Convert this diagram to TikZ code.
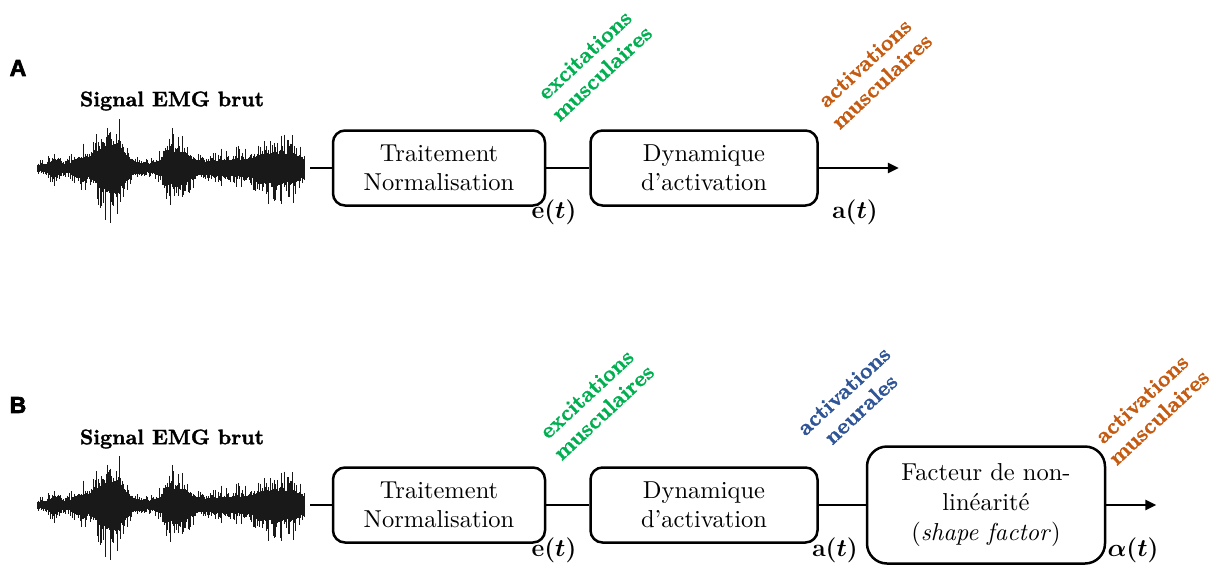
\documentclass[tikz,border=0pt]{standalone}
\usepackage{fontspec}
\usepackage{amsmath}
\usetikzlibrary{positioning,arrows.meta}
\newfontfamily\panelfont[BoldFeatures={FakeBold=3}]{Liberation Sans}
\newfontfamily\boxfont{lmroman10-regular.otf}[ItalicFont=lmroman10-italic.otf, Ligatures=TeX]
\newfontfamily\heavyfont{lmroman10-bold.otf}[FakeBold=1.6, Ligatures=TeX]
\definecolor{excgreen}{RGB}{0,176,80}
\definecolor{actorange}{RGB}{197,90,17}
\definecolor{neurblue}{RGB}{47,85,151}

\tikzset{
  bloc/.style={draw, line width=2.5pt, rounded corners=12pt, minimum width=212pt,
    minimum height=75pt, align=center, inner sep=0pt, font=\boxfont\fontsize{24.5}{29}\selectfont},
  flow/.style={line width=2.5pt},
  sortie/.style={font=\boldmath\fontsize{23}{24}\selectfont, inner sep=0pt},
  diag/.style={rotate=43, align=center, inner sep=0pt, font=\heavyfont\fontsize{22}{25}\selectfont},
  titre/.style={font=\heavyfont\fontsize{21}{24}\selectfont, inner sep=0pt},
  panel/.style={font=\panelfont\bfseries\fontsize{23}{24}\selectfont, inner sep=0pt},
  emg/.style={line width=0.8pt, black!90},
  declare function={
    bump(\t,\c,\w)=1/(1+pow(min(abs((\t-\c)/\w),9),4));
    emgenv(\t)=7+40*bump(\t,110,16)+28*bump(\t,177,14)+24*bump(\t,279,25)
      +9*bump(\t,55,6)+11*bump(\t,80,7)+8*bump(\t,228,25);
  }
}

% raw EMG trace, centred on the given y
\newcommand{\emgtrace}[1]{%
  \pgfmathsetseed{4242}%
  \draw[line width=1.5pt] (37,#1) -- (305,#1);
  \foreach \x in {37,37.9,...,305}{%
    \draw[emg] ({\x},{#1-emgenv(\x)*(0.45+0.85*rnd*rnd)}) -- ({\x},{#1+emgenv(\x)*(0.45+0.85*rnd*rnd)});
  }}

\begin{document}
\begin{tikzpicture}[x=1pt,y=-1pt]
\useasboundingbox (0,0) rectangle (1215,565);

% A
\node[panel] (lblA) at (18,68) {A};
\node[titre] (sigtA) at (172,101) {Signal EMG brut};
\emgtrace{168}
\coordinate (sigA) at (310,168);
\node[bloc] (trtA) at (439,168) {Traitement\\Normalisation};
\node[bloc, minimum width=227pt, right=43pt of trtA] (dynA) {Dynamique\\d’activation};
\coordinate[right=80pt of dynA] (outA);
\draw[flow] (sigA) -- (trtA);
\draw[flow] (trtA) -- (dynA);
\draw[flow, -{Triangle[length=11pt,width=10pt]}] (dynA) -- (outA);
\node[sortie] (eA) at (554,212) {$\mathbf{e}(t)$};
\node[sortie] (aA) at (855,212) {$\mathbf{a}(t)$};
\node[diag, text=excgreen] (excA) at (593,64) {excitations\\musculaires};
\node[diag, text=actorange] (actA) at (873,72) {activations\\musculaires};

% B
\node[panel] (lblB) at (18,405) {B};
\node[titre] (sigtB) at (172,439) {Signal EMG brut};
\emgtrace{505}
\coordinate (sigB) at (310,505);
\node[bloc] (trtB) at (439,505) {Traitement\\Normalisation};
\node[bloc, minimum width=227pt, right=43pt of trtB] (dynB) {Dynamique\\d’activation};
\node[bloc, minimum width=238pt, minimum height=117pt, rounded corners=20pt,
  font=\boxfont\fontsize{24.5}{30}\selectfont,
  right=47pt of dynB] (nlB) {Facteur de non-\\linéarité\\(\textit{shape factor})};
\coordinate[right=50pt of nlB] (outB);
\draw[flow] (sigB) -- (trtB);
\draw[flow] (trtB) -- (dynB);
\draw[flow] (dynB) -- (nlB);
\draw[flow, -{Triangle[length=11pt,width=10pt]}] (nlB) -- (outB);
\node[sortie] (eB) at (554,550) {$\mathbf{e}(t)$};
\node[sortie] (aB) at (835,550) {$\mathbf{a}(t)$};
\node[sortie] (alB) at (1133,550) {$\alpha(t)$};
\node[diag, text=excgreen] (excB) at (595,403) {excitations\\musculaires};
\node[diag, text=neurblue] (neuB) at (852,400) {activations\\neurales};
\node[diag, text=actorange] (actB) at (1150,408) {activations\\musculaires};
\end{tikzpicture}
\end{document}
